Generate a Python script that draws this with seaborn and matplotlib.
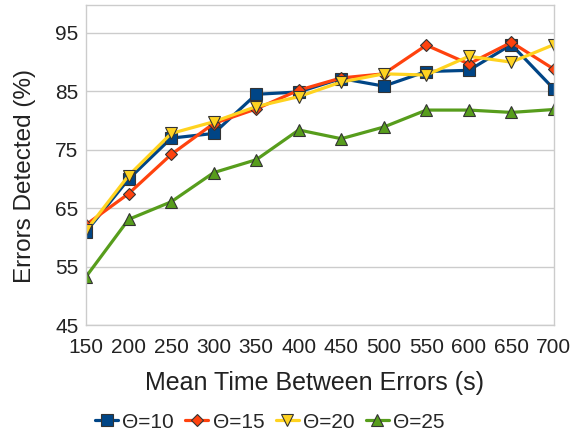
import pandas as pd
import seaborn as sns
import matplotlib.pyplot as plt

# Dados
mtbe = [150, 200, 250, 300, 350, 400, 450, 500, 550, 600, 650, 700]
theta10 = [61.0, 70.0, 77.0, 77.8, 84.5, 84.9, 87.2, 85.9, 88.4, 88.6, 93.0, 85.4]
theta15 = [62.2, 67.5, 74.2, 79.5, 82.0, 85.2, 87.3, 88.0, 92.9, 89.7, 93.4, 88.8]
theta20 = [61.2, 70.6, 77.8, 79.8, 82.4, 84.1, 86.6, 88.0, 87.8, 91.0, 90.0, 93.0]
theta25 = [53.3, 63.1, 66.1, 71.1, 73.3, 78.4, 76.9, 78.9, 81.8, 81.8, 81.4, 81.9]
labels = ['Θ=10', 'Θ=15', 'Θ=20', 'Θ=25']

df = pd.DataFrame({
    'MTBE': mtbe * 4,
    'Errors': theta10 + theta15 + theta20 + theta25,
    'Theta': [l for l in labels for _ in mtbe],
})

cores = {'Θ=10': '#004586', 'Θ=15': '#ff420e', 'Θ=20': '#ffd320', 'Θ=25': '#579d1c'}
marcadores = {'Θ=10': 's', 'Θ=15': 'D', 'Θ=20': 'v', 'Θ=25': '^'}
tamanhos = {'Θ=10': 8, 'Θ=15': 6.5, 'Θ=20': 8.5, 'Θ=25': 8.5}

sns.set_style('white')
plt.rcParams['font.family'] = ['Liberation Sans', 'DejaVu Sans']

fig = plt.figure(figsize=(5.74, 4.43), dpi=100)
ax = fig.add_axes([0.150, 0.266, 0.815, 0.723])

for lab in labels:
    sub = df[df['Theta'] == lab]
    sns.lineplot(data=sub, x='MTBE', y='Errors', ax=ax, color=cores[lab],
                 marker=marcadores[lab], markersize=tamanhos[lab],
                 markeredgecolor='#333333', markeredgewidth=0.8,
                 linewidth=2.3, label=lab)

ax.set_xlim(150, 700)
ax.set_ylim(45, 99.8)
ax.set_xticks(mtbe)
ax.set_yticks([45, 55, 65, 75, 85, 95])
ax.yaxis.grid(True, color='#cccccc', linewidth=1)
ax.set_axisbelow(True)
for s in ax.spines.values():
    s.set_color('#cccccc')
    s.set_linewidth(1)
ax.tick_params(axis='both', labelsize=15, colors='#bbbbbb', labelcolor='#222222',
               length=5, direction='inout')
ax.tick_params(axis='x', pad=7)
ax.tick_params(axis='y', pad=3)

ax.set_xlabel('Mean Time Between Errors (s)', fontsize=18, color='#222222')
ax.xaxis.label.set_va('center')
ax.xaxis.set_label_coords(0.489, -0.181)
ax.set_ylabel('Errors Detected (%)', fontsize=17.5, color='#222222')
ax.yaxis.label.set_va('center')
ax.yaxis.set_label_coords(-0.13, 0.466)

ax.get_legend().remove()
h, l = ax.get_legend_handles_labels()
fig.legend(h, l, loc='center', ncol=4, frameon=False, fontsize=15,
           handlelength=1.1, handletextpad=0.2, columnspacing=0.55,
           bbox_to_anchor=(0.47, 0.047))

plt.savefig('out.png', dpi=100)
